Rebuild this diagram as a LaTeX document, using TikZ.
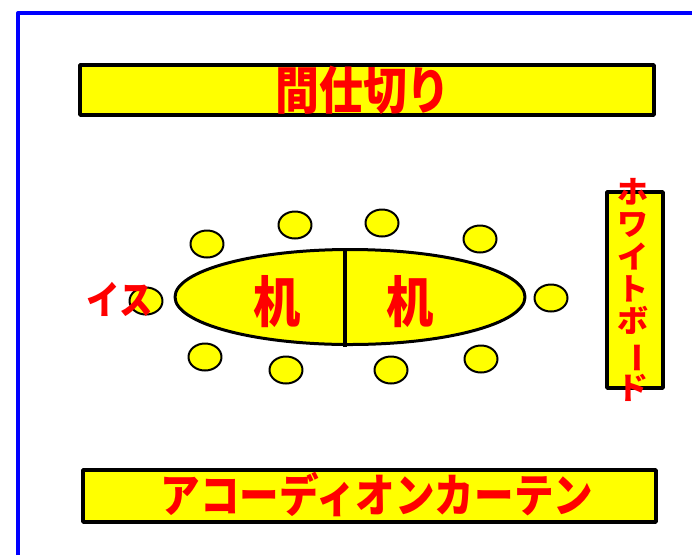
\documentclass[tikz,border=0pt]{standalone}
\usepackage{fontspec}
\usepackage{graphicx}
\usetikzlibrary{shapes.geometric}
\newfontfamily\jpfont[FakeStretch=0.86]{Noto Sans CJK JP}
\newfontfamily\jpwide{Noto Sans CJK JP}
\definecolor{kiiro}{RGB}{255,255,0}
\definecolor{aka}{RGB}{255,0,0}
\definecolor{ao}{RGB}{0,0,255}
\begin{document}
\begin{tikzpicture}[x=1pt,y=-1pt, line join=round,
	bar/.style={rectangle,draw=black,fill=kiiro,line width=3.5pt,inner sep=0pt},
	isu/.style={ellipse,draw=black,fill=kiiro,line width=2pt,minimum width=33pt,minimum height=27pt,inner sep=0pt},
	moji/.style={text=aka,inner sep=0pt,font=\jpfont\bfseries}]
	\useasboundingbox (0,0) rectangle (692,555);
	%waku
	\draw[ao,line width=4pt](18,555)--(18,13)--(692,13);
	%shikiri
	\path(367,90)node[bar,minimum width=574pt,minimum height=50pt](shikiri){}
		(363,90)node[moji,font=\jpfont\bfseries\fontsize{51}{51}\selectfont](shikiritxt){間仕切り}
		(369.5,496)node[bar,minimum width=573pt,minimum height=52pt](curtain){}
		(377,494)node[moji,font=\jpfont\bfseries\fontsize{46}{46}\selectfont](curtaintxt){アコーディオンカーテン}
		;
	%isu
	\foreach \x/\y [count=\i] in {207/244,295/225,382/223,480/239,205/357,286/370,391/370,481/359,146/301,551/298}
		\node[isu](c\i) at (\x,\y){};
	%tsukue
	\path(350,297)node[ellipse,draw=black,fill=kiiro,line width=3pt,minimum width=350pt,minimum height=95pt](tsukue){}
		(345,249.5)coordinate(t1) (345,347)coordinate(t2);
	\draw[line width=3.5pt](t1)--(t2);
	\path(277,302)node[moji,font=\jpfont\bfseries\fontsize{55}{55}\selectfont](k1){机}
		(410,302)node[moji,font=\jpfont\bfseries\fontsize{55}{55}\selectfont](k2){机}
		(120,299)node[moji,font=\jpfont\bfseries\fontsize{39}{39}\selectfont](isutxt){イス}
		;
	%whiteboard
	\path(635,290)node[bar,minimum width=56pt,minimum height=196pt](wb){}
		(633,290)node[moji,align=center,font=\jpwide\bfseries\fontsize{31}{32.3}\selectfont](wbtxt){ホ\\ワ\\イ\\ト\\ボ\\\rotatebox[origin=c]{-90}{ー}\\ド}
		;
\end{tikzpicture}
\end{document}
